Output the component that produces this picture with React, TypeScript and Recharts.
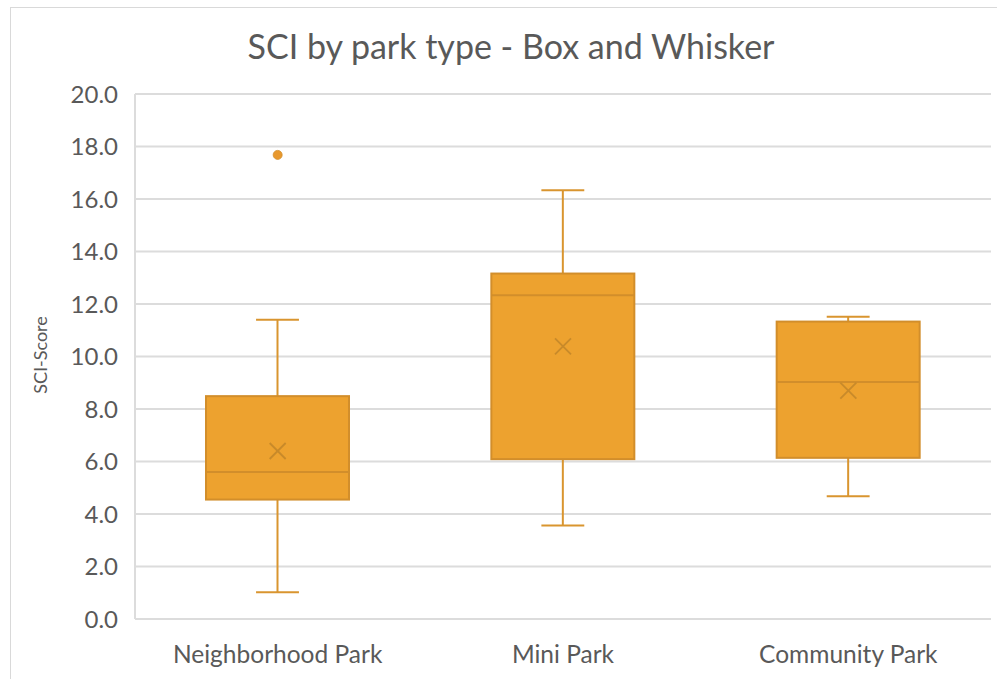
import { ComposedChart, Bar, Scatter, XAxis, YAxis, CartesianGrid } from "recharts";

// park types on the x axis
const categories = ["Neighborhood Park", "Mini Park", "Community Park"];

// box & whisker stats per category (SCI-Score)
const minValues = [1.02, 3.56, 4.68];
const q1Values = [4.55, 6.09, 6.14];
const medianValues = [5.6, 12.33, 9.03];
const q3Values = [8.49, 13.16, 11.33];
const maxValues = [11.4, 16.33, 11.51];
const meanValues = [6.4, 10.39, 8.7];

// points beyond the whiskers
const outlierCategories = ["Neighborhood Park"];
const outlierValues = [17.68];

const yTicks = [0, 2, 4, 6, 8, 10, 12, 14, 16, 18, 20];

const FILL = "#EDA22F";
const EDGE = "#D28E2B";
const WHISKER = "#D9952F";
const MEAN = "#C88A2A";
const TEXT = "#595959";
const GRID = "#DCDCDC";

const boxData = categories.map((name, i) => ({
  name,
  range: [minValues[i], maxValues[i]],
  min: minValues[i],
  q1: q1Values[i],
  median: medianValues[i],
  q3: q3Values[i],
  max: maxValues[i],
  mean: meanValues[i],
}));

const outlierData = outlierCategories.map((name, i) => ({ name, value: outlierValues[i] }));

// the bar spans min..max, so every other stat is placed relative to that span
function BoxShape(props: any) {
  const { x, y, width, height, payload } = props;
  if (!payload || height == null) return null;
  const span = payload.max - payload.min;
  const py = (v: number) => y + ((payload.max - v) / span) * height;
  const cx = x + width / 2;
  const cap = width * 0.3;
  const top = py(payload.q3);
  const bottom = py(payload.q1);
  return (
    <g>
      <line x1={cx} x2={cx} y1={y} y2={top} stroke={WHISKER} strokeWidth={2} />
      <line x1={cx} x2={cx} y1={bottom} y2={y + height} stroke={WHISKER} strokeWidth={2} />
      <line x1={cx - cap / 2} x2={cx + cap / 2} y1={y} y2={y} stroke={WHISKER} strokeWidth={2} />
      <line x1={cx - cap / 2} x2={cx + cap / 2} y1={y + height} y2={y + height} stroke={WHISKER} strokeWidth={2} />
      <rect x={x} y={top} width={width} height={bottom - top} fill={FILL} stroke={EDGE} strokeWidth={2} />
      <line x1={x} x2={x + width} y1={py(payload.median)} y2={py(payload.median)} stroke={EDGE} strokeWidth={2} />
    </g>
  );
}

function MeanMark(props: any) {
  const { cx, cy } = props;
  if (cx == null || cy == null) return null;
  const s = 8;
  return (
    <g stroke={MEAN} strokeWidth={1.8}>
      <line x1={cx - s} y1={cy - s} x2={cx + s} y2={cy + s} />
      <line x1={cx - s} y1={cy + s} x2={cx + s} y2={cy - s} />
    </g>
  );
}

function OutlierDot(props: any) {
  const { cx, cy } = props;
  if (cx == null || cy == null) return null;
  return <circle cx={cx} cy={cy} r={4.5} fill="#E8982D" stroke={EDGE} strokeWidth={0.8} />;
}

export default function App() {
  return (
    <div
      style={{
        position: "absolute",
        left: 0,
        top: 0,
        width: 997,
        height: 679,
        overflow: "hidden",
        background: "#fff",
        fontFamily: "Lato, 'Open Sans', sans-serif",
      }}
    >
      <div
        style={{
          position: "absolute",
          left: 10,
          top: 7,
          width: 1000,
          height: 700,
          border: "1px solid #D9D9D9",
        }}
      />
      <div
        style={{
          position: "absolute",
          left: 0,
          width: 1022,
          top: 25,
          textAlign: "center",
          fontSize: 34,
          color: TEXT,
          lineHeight: "42px",
        }}
      >
        SCI by park type - Box and Whisker
      </div>
      <div
        style={{
          position: "absolute",
          left: 40,
          top: 355,
          transform: "translate(-50%, -50%) rotate(-90deg)",
          fontSize: 18,
          color: TEXT,
          whiteSpace: "nowrap",
        }}
      >
        SCI-Score
      </div>
      <div style={{ position: "absolute", left: 0, top: 0 }}>
        <ComposedChart
          width={997}
          height={679}
          data={boxData}
          margin={{ top: 94, right: 6, bottom: 0, left: 0 }}
        >
          <CartesianGrid vertical={false} stroke={GRID} strokeWidth={2} />
          <XAxis
            dataKey="name"
            type="category"
            allowDuplicatedCategory={false}
            height={60}
            axisLine={{ stroke: GRID, strokeWidth: 2 }}
            tickLine={false}
            tickSize={0}
            tickMargin={27}
            tick={{ fill: TEXT, fontSize: 24.5 }}
          />
          <YAxis
            type="number"
            domain={[0, 20]}
            ticks={yTicks}
            width={135}
            axisLine={{ stroke: GRID, strokeWidth: 2 }}
            tickLine={false}
            tickSize={0}
            tickMargin={17}
            tickFormatter={(v: number) => v.toFixed(1)}
            tick={{ fill: TEXT, fontSize: 24 }}
          />
          <Bar dataKey="range" barSize={143} shape={<BoxShape />} isAnimationActive={false} />
          <Scatter dataKey="mean" shape={<MeanMark />} isAnimationActive={false} />
          <Scatter data={outlierData} dataKey="value" shape={<OutlierDot />} isAnimationActive={false} />
        </ComposedChart>
      </div>
    </div>
  );
}
